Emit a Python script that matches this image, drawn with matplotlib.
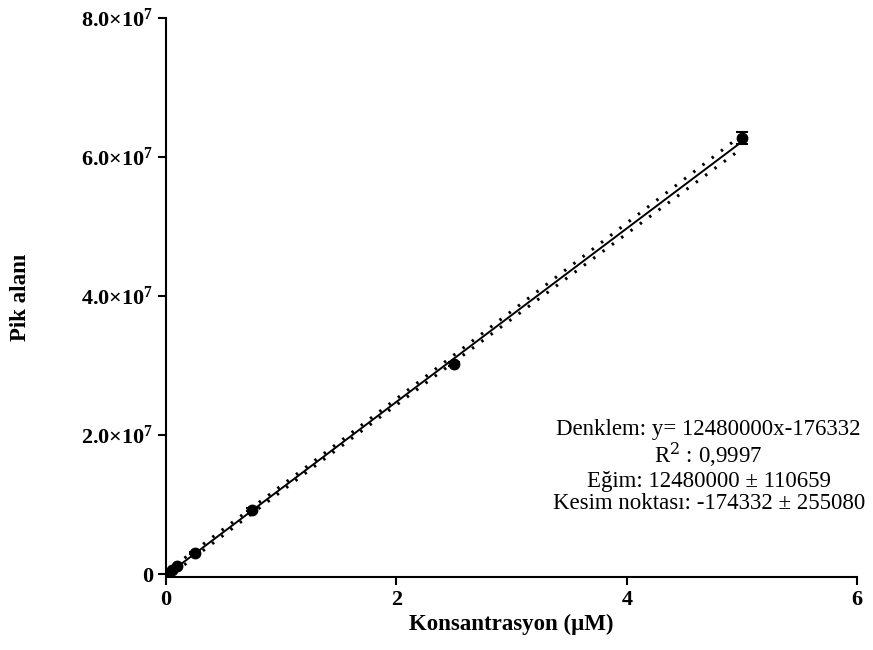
import matplotlib.pyplot as plt
import numpy as np

# Calibration data: concentration (uM) vs peak area
konsantrasyon = np.array([0.01, 0.05, 0.1, 0.25, 0.75, 2.5, 5.0])
pik_alani = np.array([1.0e5, 5.5e5, 1.15e6, 3.05e6, 9.3e6, 3.02e7, 6.28e7])
sd = np.array([2.0e4, 4.0e4, 6.0e4, 1.0e5, 2.0e5, 3.0e5, 8.5e5])

# Regression results
egim = 12480000
kesim = -176332
egim_se = 110659
n_tekrar = 3
t_deger = 2.093

y_ticks = [0, 2e7, 4e7, 6e7, 8e7]
y_ticklabels = ["0", r"2.0$\times$10$^7$", r"4.0$\times$10$^7$",
                r"6.0$\times$10$^7$", r"8.0$\times$10$^7$"]
x_ticks = [0, 2, 4, 6]

plt.rcParams["font.family"] = ["Liberation Serif", "DejaVu Serif"]
plt.rcParams["mathtext.fontset"] = "custom"
plt.rcParams["mathtext.rm"] = "Liberation Serif:bold"
plt.rcParams["mathtext.it"] = "Liberation Serif:bold"

fig = plt.figure(figsize=(8.73, 6.5), dpi=100)
ax = fig.add_axes([0.190, 0.1123, 0.792, 0.860])

# fitted line and 95% confidence band
xf = np.linspace(0, konsantrasyon.max(), 200)
yf = egim * xf + kesim
xs = np.repeat(konsantrasyon, n_tekrar)
sxx = np.sum((xs - xs.mean()) ** 2)
band = t_deger * egim_se * np.sqrt(sxx / len(xs) + (xf - xs.mean()) ** 2)

ax.plot(xf, yf, color="black", lw=1.4, zorder=3)
ax.plot(xf, yf + band, color="black", lw=2.2, ls=(0, (0.8, 3.0)), zorder=2)
ax.plot(xf, yf - band, color="black", lw=2.2, ls=(0, (0.8, 3.0)), zorder=2)

ax.errorbar(konsantrasyon, pik_alani, yerr=sd, fmt="o", color="black",
            ms=7.5, capsize=4, elinewidth=1.5, capthick=1.5, zorder=4)

ax.set_xlim(0, 6)
ax.set_ylim(-0.4e6, 8e7)
ax.set_xticks(x_ticks)
ax.set_xticklabels([str(t) for t in x_ticks], fontweight="bold")
ax.set_yticks(y_ticks)
ax.set_yticklabels(y_ticklabels, fontweight="bold")
ax.tick_params(labelsize=16, width=1.5, length=6, direction="out", pad=3)

for side in ["top", "right"]:
    ax.spines[side].set_visible(False)
for side in ["left", "bottom"]:
    ax.spines[side].set_linewidth(1.5)

ax.set_xlabel("Konsantrasyon (\u00b5M)", fontsize=16.5, fontweight="bold", labelpad=3)
ax.set_ylabel("Pik alan\u0131", fontsize=16.5, fontweight="bold", labelpad=36)

metin = ("Denklem: y= 12480000x-176332\n"
         "R$^2$ : 0,9997\n"
         "E\u011fim: 12480000 \u00b1 110659\n"
         "Kesim noktas\u0131: -174332 \u00b1 255080")
ax.text(0.785, 0.283, metin, transform=ax.transAxes, ha="center", va="top",
        fontsize=16.5, linespacing=1.05, math_fontfamily="dejavuserif")

fig.savefig("out.png", dpi=100)
